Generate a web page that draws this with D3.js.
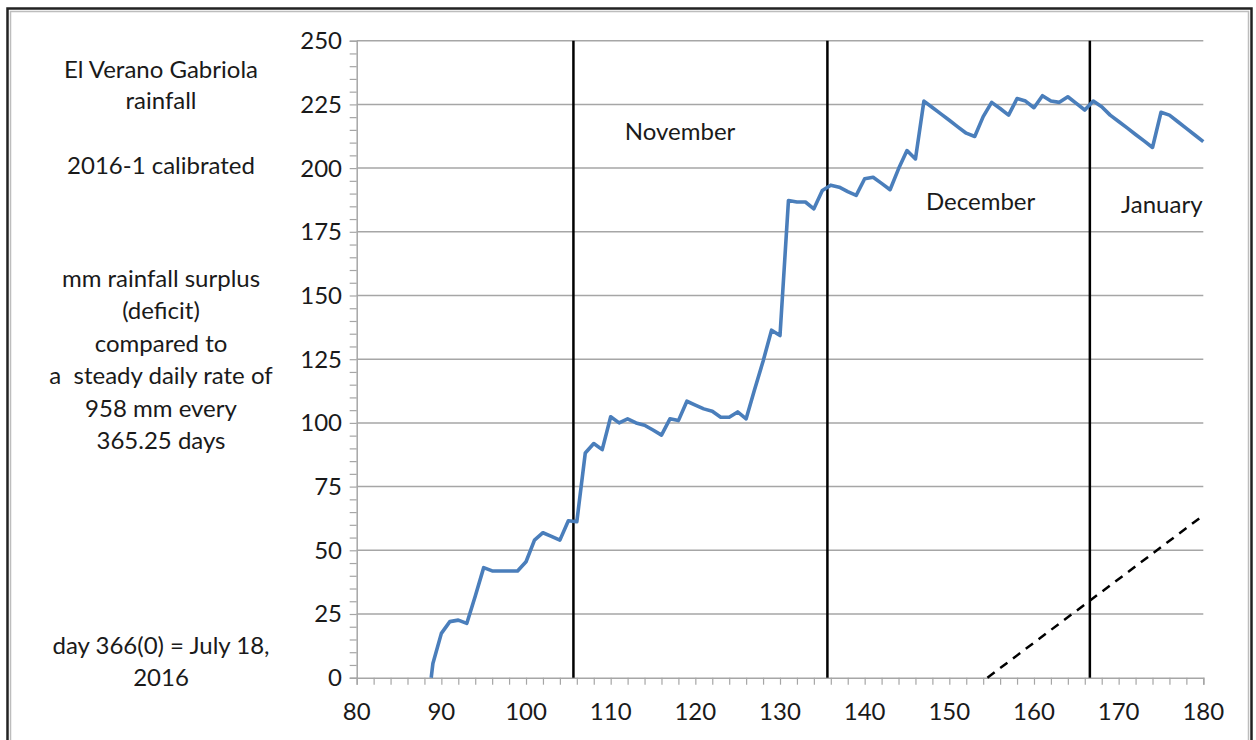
<!DOCTYPE html>
<html>
<head>
<meta charset="utf-8">
<script src="https://cdn.jsdelivr.net/npm/d3@7"></script>
<style>
  html, body { margin: 0; padding: 0; background: #fff; }
  svg { display: block; }
  text { font-family: Lato, "Open Sans", sans-serif; fill: #1a1a1a; }
</style>
</head>
<body>
<svg id="chart" width="1256" height="740"></svg>
<script>
// ---- data ----
const days = [88.8, 89, 90, 91, 92, 93, 94, 95, 96, 97, 98, 99, 100, 101, 102, 103, 104, 105, 106,
  107, 108, 109, 110, 111, 112, 113, 114, 115, 116, 117, 118, 119, 120, 121, 122, 123, 124, 125, 126,
  127, 128, 129, 130, 131, 132, 133, 134, 135, 136, 137, 138, 139, 140, 141, 142, 143, 144, 145, 146,
  147, 148, 149, 150, 151, 152, 153, 154, 155, 156, 157, 158, 159, 160, 161, 162, 163, 164, 165, 166,
  167, 168, 169, 170, 171, 172, 173, 174, 175, 176, 177, 178, 179, 180];
const surplus = [0, 5.6, 17.4, 22, 22.6, 21.3, 32, 43.2, 41.9, 41.9, 41.9, 41.9, 45.5, 54, 56.9, 55.5, 54, 61.6, 61.2,
  88.2, 91.9, 89.5, 102.4, 100, 101.6, 100, 99.1, 97.2, 95.2, 101.6, 100.9, 108.5, 107, 105.5, 104.6, 102.2, 102.2, 104.3, 101.6,
  113.1, 124.2, 136.4, 134.3, 187.3, 186.7, 186.7, 184, 191.2, 193.3, 192.5, 190.8, 189.3, 195.8, 196.4, 194, 191.5, 199.7, 206.9, 203.6,
  226.3, 223.8, 221.3, 218.8, 216.2, 213.7, 212.4, 220.2, 225.8, 223.4, 220.8, 227.3, 226.3, 223.7, 228.4, 226.3, 225.8, 228, 225.4, 222.8,
  226.3, 224.1, 220.8, 218.3, 215.8, 213.2, 210.7, 208.1, 221.9, 220.8, 218.2, 215.6, 213, 210.4];
const trendDays = [154.5, 180];
const trendValues = [0, 63.7];
const monthStarts = [105.6, 135.6, 166.6];
const monthNames = ["November", "December", "January"];
const monthLabelDays = [118.2, 153.7, 175.1];
const monthLabelValues = [214.5, 187, 185.5];
const yTicks = [0, 25, 50, 75, 100, 125, 150, 175, 200, 225, 250];
const xTicks = [80, 90, 100, 110, 120, 130, 140, 150, 160, 170, 180];
const sideText = [
  ["El Verano Gabriola", 70], ["rainfall", 101], ["2016-1 calibrated", 166],
  ["mm rainfall surplus", 279], ["(deficit)", 311], ["compared to", 344],
  ["a  steady daily rate of", 376], ["958 mm every", 409], ["365.25 days", 441],
  ["day 366(0) = July 18,", 646], ["2016", 678]
];

// ---- layout ----
const svg = d3.select("#chart");
const x = d3.scaleLinear().domain([80, 180]).range([356.7, 1203.3]);
const y = d3.scaleLinear().domain([0, 250]).range([677.7, 40.7]);
const FS = 24;

// frame
svg.append("rect").attr("x", 7.5).attr("y", 8.5).attr("width", 1244).attr("height", 740)
  .attr("fill", "none").attr("stroke", "#222").attr("stroke-width", 2.5);
svg.append("rect").attr("x", 10.5).attr("y", 11.5).attr("width", 1238).attr("height", 740)
  .attr("fill", "none").attr("stroke", "#bdbdbd").attr("stroke-width", 1.5);

// gridlines
svg.append("g").selectAll("line").data(yTicks.filter(d => d > 0)).join("line")
  .attr("x1", x(80)).attr("x2", x(180))
  .attr("y1", d => y(d)).attr("y2", d => y(d))
  .attr("stroke", "#a6a6a6").attr("stroke-width", 1.5);

// y axis
const yAxis = svg.append("g").attr("transform", `translate(${x(80)},0)`)
  .call(d3.axisLeft(y).tickValues(d3.range(0, 251, 5)).tickSize(7).tickFormat(""));
yAxis.select(".domain").attr("stroke", "#a6a6a6").attr("stroke-width", 1.5);
yAxis.selectAll(".tick line").attr("stroke", "#a6a6a6").attr("stroke-width", 1.2);
svg.append("g").selectAll("text").data(yTicks).join("text")
  .attr("x", 342).attr("y", d => y(d)).attr("dy", "0.35em")
  .attr("text-anchor", "end").attr("font-size", FS).text(d => d);

// x axis
const xAxis = svg.append("g").attr("transform", `translate(0,${y(0)})`)
  .call(d3.axisBottom(x).tickValues(d3.range(80, 181, 2)).tickSize(7).tickFormat(""));
xAxis.select(".domain").attr("stroke", "#a6a6a6").attr("stroke-width", 1.5);
xAxis.selectAll(".tick line").attr("stroke", "#a6a6a6").attr("stroke-width", 1.2);
svg.append("g").selectAll("text").data(xTicks).join("text")
  .attr("x", d => x(d)).attr("y", 712).attr("dy", "0.35em")
  .attr("text-anchor", "middle").attr("font-size", FS).text(d => d);

// month boundary lines
svg.append("g").selectAll("line").data(monthStarts).join("line")
  .attr("x1", d => x(d)).attr("x2", d => x(d))
  .attr("y1", y(250)).attr("y2", y(0))
  .attr("stroke", "#000").attr("stroke-width", 2.5);

// month labels
svg.append("g").selectAll("text").data(monthNames).join("text")
  .attr("x", (d, i) => x(monthLabelDays[i])).attr("y", (d, i) => y(monthLabelValues[i]))
  .attr("dy", "0.35em").attr("text-anchor", "middle").attr("font-size", FS).text(d => d);

// trend dashed line
const trend = trendDays.map((d, i) => [d, trendValues[i]]);
svg.append("path").datum(trend)
  .attr("d", d3.line().x(d => x(d[0])).y(d => y(d[1])))
  .attr("fill", "none").attr("stroke", "#000").attr("stroke-width", 2.5)
  .attr("stroke-dasharray", "9,7");

// surplus line
const series = days.map((d, i) => [d, surplus[i]]);
svg.append("path").datum(series)
  .attr("d", d3.line().x(d => x(d[0])).y(d => y(d[1])))
  .attr("fill", "none").attr("stroke", "#4a7ebb").attr("stroke-width", 3.6)
  .attr("stroke-linejoin", "round");

// side text
svg.append("g").selectAll("text").data(sideText).join("text")
  .attr("x", 161).attr("y", d => d[1]).attr("dy", "0.35em")
  .attr("text-anchor", "middle").attr("font-size", FS).attr("xml:space", "preserve").text(d => d[0]);
</script>
</body>
</html>
